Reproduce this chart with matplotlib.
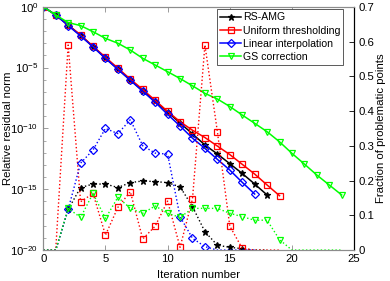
import numpy as np
import matplotlib
matplotlib.use("Agg")
import matplotlib.pyplot as plt
from matplotlib.ticker import NullFormatter, FixedLocator

plt.rcParams['font.family'] = ['Liberation Sans', 'DejaVu Sans']
plt.rcParams['mathtext.fontset'] = 'custom'
plt.rcParams['mathtext.rm'] = 'Liberation Sans'
plt.rcParams['mathtext.it'] = 'Liberation Sans:italic'
plt.rcParams['mathtext.bf'] = 'Liberation Sans:bold'

# residual norm (log10 values)
log_res_rs = [0, -0.68, -1.5, -2.35, -3.28, -4.22, -5.12, -6.02, -6.9, -7.78,
              -8.65, -9.55, -10.45, -11.36, -12.1, -12.9, -13.7, -14.57, -15.47]
log_res_ut = [0, -0.68, -1.5, -2.33, -3.25, -4.15, -5.05, -5.95, -6.8, -7.7,
              -8.6, -9.45, -10.15, -10.75, -11.45, -12.15, -12.95, -13.75, -14.65, -15.53]
log_res_li = [0, -0.68, -1.55, -2.4, -3.3, -4.25, -5.15, -6.05, -6.95, -7.85,
              -8.85, -9.8, -10.8, -11.64, -12.54, -13.42, -14.43, -15.39]
log_res_gs = [0, -0.68, -1.3, -1.55, -2.05, -2.6, -3.0, -3.56, -4.24, -4.79,
              -5.34, -5.9, -6.5, -7.12, -7.58, -8.2, -8.9, -9.58, -10.27, -11.1,
              -12.05, -12.93, -13.83, -14.65, -15.47]

# fraction of problematic points
frac_rs = [0, 0, 0.117, 0.18, 0.19, 0.19, 0.18, 0.194, 0.199, 0.197,
           0.194, 0.182, 0.125, 0.053, 0.014, 0.008, 0.004, 0, 0]
frac_ut = [0, 0, 0.59, 0.139, 0.163, 0.043, 0.123, 0.168, 0.032, 0.069,
           0.141, 0.008, 0.147, 0.59, 0.341, 0.069, 0.005, 0, 0, 0]
frac_li = [0, 0, 0.117, 0.25, 0.288, 0.35, 0.335, 0.375, 0.30, 0.279,
           0.276, 0.096, 0.034, 0.01, 0, 0, 0, 0]
frac_gs = [0, 0, 0.12, 0.094, 0.163, 0.091, 0.152, 0.12, 0.106, 0.127,
           0.106, 0.094, 0.12, 0.12, 0.12, 0.106, 0.096, 0.086, 0.086, 0.03,
           0, 0, 0, 0, 0]

labels = ['RS-AMG', 'Uniform thresholding', 'Linear interpolation', 'GS correction']
colors = ['k', '#ff0000', '#0000ff', '#00ff00']
markers = ['*', 's', 'D', 'v']
msizes = [5, 4.5, 4.2, 5]
res_all = [log_res_rs, log_res_ut, log_res_li, log_res_gs]
frac_all = [frac_rs, frac_ut, frac_li, frac_gs]

fs = 8.2
fig = plt.figure(figsize=(3.9, 2.81), dpi=100)
ax = fig.add_axes([0.111, 0.110, 0.797, 0.866])
ax2 = ax.twinx()

handles = []
for lr, c, m, ms, lab in zip(res_all, colors, markers, msizes, labels):
    it = np.arange(len(lr))
    h, = ax.semilogy(it, np.power(10.0, lr), '-', color=c, marker=m, ms=ms,
                     mfc='none' if m != '*' else c, mec=c, mew=0.9, lw=1.1, label=lab)
    handles.append(h)

for fr, c, m, ms in zip(frac_all, colors, markers, msizes):
    fr = np.array(fr)
    it = np.arange(len(fr))
    ax2.plot(it, fr, ':', color=c, marker=m, ms=ms,
             mfc='none' if m != '*' else c, mec=c, mew=0.9, lw=1.0,
             markevery=list(fr > 0))

ax.set_xlim(0, 25)
ax.set_ylim(1e-20, 1)
ax2.set_ylim(0, 0.7)

ax.set_yticks([1e-20, 1e-15, 1e-10, 1e-5, 1])
ax.set_yticklabels([r'$10^{-20}$', r'$10^{-15}$', r'$10^{-10}$', r'$10^{-5}$', r'$10^{0}$'])
ax.yaxis.set_minor_locator(FixedLocator([10.0 ** k for k in range(-20, 1)]))
ax.yaxis.set_minor_formatter(NullFormatter())
ax.set_xticks([0, 5, 10, 15, 20, 25])
ax2.set_yticks(np.arange(0, 0.71, 0.1))
ax2.set_yticklabels(['0', '0.1', '0.2', '0.3', '0.4', '0.5', '0.6', '0.7'])

gray = '#8c8c8c'
for s in ['left', 'bottom', 'top']:
    ax.spines[s].set_color(gray)
    ax2.spines[s].set_color(gray)
ax.spines['right'].set_color('k')
ax2.spines['right'].set_color('k')
for a in (ax, ax2):
    for s in a.spines.values():
        s.set_linewidth(0.8)

ax.tick_params(axis='both', which='major', direction='in', length=3.5, width=0.6,
               colors=gray, labelcolor='k', labelsize=fs, top=True, right=False)
ax.tick_params(axis='y', which='minor', direction='in', length=2, width=0.5, colors=gray)
ax.tick_params(axis='x', pad=3)
ax2.tick_params(axis='y', direction='in', length=3.5, width=0.6, colors='k', labelsize=fs, pad=3)

ax.set_xlabel('Iteration number', fontsize=fs)
ax.set_ylabel('Relative residual norm', fontsize=fs)
ax2.set_ylabel('Fraction of problematic points', fontsize=fs)
ax.xaxis.set_label_coords(0.5, -0.082)
ax.yaxis.set_label_coords(-0.097, 0.5)
ax2.yaxis.set_label_coords(1.072, 0.5)

leg = ax2.legend(handles=handles, loc='upper right', bbox_to_anchor=(0.965, 0.99),
                 fontsize=7.6, frameon=True, fancybox=False, framealpha=1,
                 edgecolor='#404040', borderpad=0.3, labelspacing=0.3,
                 handlelength=2.0, handletextpad=0.15, borderaxespad=0)
leg.get_frame().set_linewidth(0.6)

fig.savefig('out.png', dpi=100)
